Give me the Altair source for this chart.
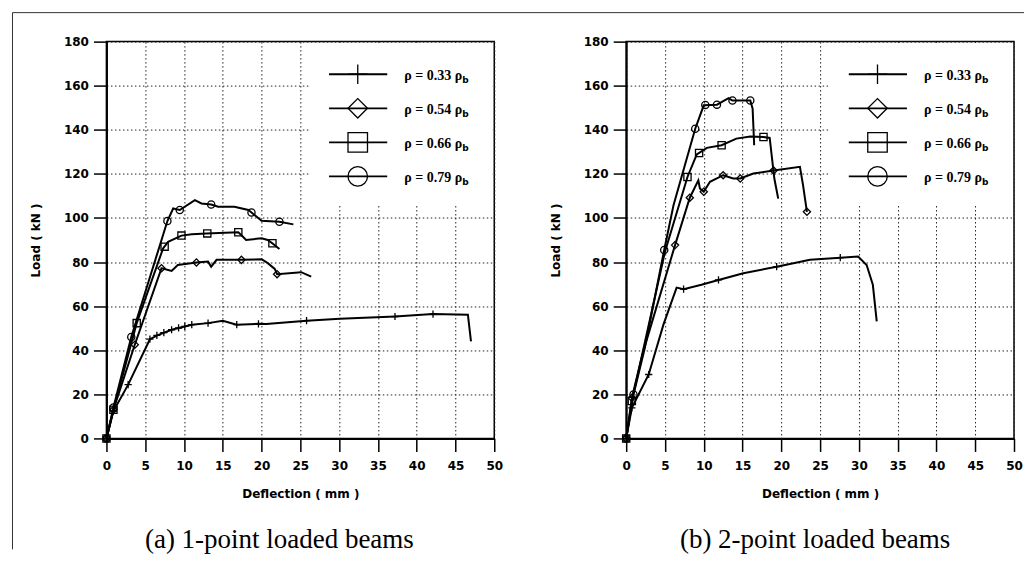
import altair as alt
import pandas as pd

# ---------------- data ----------------
SERIES = ["0.33", "0.54", "0.66", "0.79"]
LEGEND_LABELS = ["ρ = 0.33 ρ", "ρ = 0.54 ρ", "ρ = 0.66 ρ", "ρ = 0.79 ρ"]
LEGEND_SUB = "b"
X_TICKS = [0, 5, 10, 15, 20, 25, 30, 35, 40, 45, 50]
Y_TICKS = [0, 20, 40, 60, 80, 100, 120, 140, 160, 180]
CAPTIONS = ["(a) 1-point loaded beams", "(b) 2-point  loaded beams"]
X_TITLE = "Deflection ( mm )"
Y_TITLE = "Load ( kN )"

# panel (a): 1-point loaded beams -- curves
A033_X = [0, 0.9, 2.8, 5.6, 6.7, 8.4, 10.1, 11.0, 13.1, 15.0, 16.8, 19.6, 20.6, 25.8, 30.1, 37.2, 42.1, 46.6, 47.0]
A033_Y = [0, 12.4, 24.4, 45.0, 47.0, 49.3, 50.8, 51.6, 52.3, 53.4, 51.6, 52.0, 51.9, 53.4, 54.3, 55.3, 56.4, 56.1, 44.0]
A054_X = [0, 0.9, 3.65, 7.1, 8.4, 9.2, 11.6, 13.1, 13.5, 14.2, 17.4, 20.0, 20.8, 21.7, 22.0, 25.1, 26.4]
A054_Y = [0, 13.0, 42.5, 77.2, 76.0, 78.7, 79.8, 80.2, 77.9, 81.0, 81.0, 81.3, 79.5, 76.9, 74.5, 75.4, 73.4]
A066_X = [0, 0.9, 3.9, 7.3, 7.95, 9.67, 11.0, 12.9, 15.3, 17.0, 17.6, 18.0, 20.0, 20.8, 21.5, 22.3]
A066_Y = [0, 13.0, 52.3, 86.2, 89.2, 92.0, 92.6, 93.0, 93.3, 93.5, 91.5, 90.0, 90.8, 90.0, 88.2, 85.9]
A079_X = [0, 0.9, 3.2, 7.86, 8.6, 9.45, 11.4, 12.25, 13.5, 14.4, 16.5, 18.3, 18.7, 20.0, 22.3, 24.1]
A079_Y = [0, 14.0, 46.0, 98.6, 104.3, 103.6, 108.1, 106.6, 106.1, 105.1, 105.1, 103.6, 102.5, 98.7, 98.3, 97.1]
# panel (a) markers
A033_MX = [0, 0.9, 2.8, 5.6, 6.5, 7.4, 8.4, 9.3, 10.1, 11.0, 13.1, 16.8, 19.6, 25.8, 37.2, 42.1]
A033_MY = [0, 12.4, 24.4, 45.0, 46.7, 48.0, 49.3, 50.1, 50.8, 51.6, 52.3, 51.6, 52.0, 53.4, 55.3, 56.4]
A054_MX = [0, 0.9, 3.65, 7.1, 11.6, 17.4, 22.0]
A054_MY = [0, 13.0, 42.5, 77.2, 79.8, 81.0, 74.5]
A066_MX = [0, 0.9, 3.9, 7.5, 9.67, 13.0, 17.0, 21.4]
A066_MY = [0, 13.0, 52.3, 87.0, 92.0, 93.0, 93.5, 88.5]
A079_MX = [0, 0.9, 3.2, 7.86, 9.45, 13.5, 18.7, 22.3]
A079_MY = [0, 14.0, 46.0, 98.6, 103.6, 106.1, 102.5, 98.3]

# panel (b): 2-point loaded beams -- curves
B033_X = [0, 0.73, 2.9, 4.8, 6.5, 7.4, 9.7, 11.9, 15.1, 19.4, 23.7, 27.6, 29.9, 31.0, 31.8, 32.3]
B033_Y = [0, 13.9, 29.0, 51.6, 68.4, 67.7, 69.7, 71.9, 74.9, 77.9, 81.0, 82.0, 82.5, 78.7, 69.7, 53.1]
B054_X = [0, 0.73, 2.2, 6.3, 8.2, 9.3, 9.5, 10.0, 10.8, 12.5, 13.8, 14.7, 16.4, 19.0, 22.4, 22.8, 23.3]
B054_Y = [0, 18.4, 39.5, 87.7, 109.2, 117.1, 113.4, 111.9, 116.4, 119.4, 117.9, 117.9, 120.2, 121.5, 123.2, 114.9, 102.8]
B066_X = [0, 0.73, 5.0, 7.9, 9.1, 10.4, 12.3, 14.2, 16.0, 17.7, 18.5, 19.1, 19.6]
B066_Y = [0, 17.0, 84.7, 118.6, 128.8, 131.8, 133.0, 136.0, 137.0, 136.7, 136.3, 117.9, 108.8]
B079_X = [0, 0.94, 2.4, 4.9, 6.1, 8.9, 10.0, 11.7, 13.2, 13.7, 16.0, 16.3, 16.5]
B079_Y = [0, 19.9, 41.0, 85.5, 105.8, 140.5, 151.1, 151.4, 154.4, 153.3, 153.3, 149.6, 133.0]
# panel (b) markers
B033_MX = [0, 0.73, 2.9, 7.4, 11.9, 19.4, 27.6]
B033_MY = [0, 13.9, 29.0, 67.7, 71.9, 77.9, 82.0]
B054_MX = [0, 0.73, 6.3, 8.2, 10.0, 12.5, 14.7, 19.0, 23.3]
B054_MY = [0, 18.4, 87.7, 109.2, 111.9, 119.4, 117.9, 121.5, 102.8]
B066_MX = [0, 0.73, 7.9, 9.4, 12.3, 17.7]
B066_MY = [0, 17.0, 118.6, 129.5, 133.0, 136.7]
B079_MX = [0, 0.94, 4.9, 8.9, 10.2, 11.7, 13.7, 16.0]
B079_MY = [0, 19.9, 85.5, 140.5, 151.3, 151.4, 153.3, 153.3]

# ---------------- styling / layout ----------------
PLUS = "M-1,0H1M0,-1V1"
SHAPES = [PLUS, "diamond", "square", "circle"]
W, H = 388, 397
SANS = "DejaVu Sans"
SERIF = "Liberation Serif"


def build_frames(curves, markers):
    lrows, mrows = [], []
    for s, (xs, ys) in zip(SERIES, curves):
        for i, (x, y) in enumerate(zip(xs, ys)):
            lrows.append({"series": s, "x": x, "y": y, "i": i})
    for s, (xs, ys) in zip(SERIES, markers):
        for x, y in zip(xs, ys):
            mrows.append({"series": s, "x": x, "y": y})
    return pd.DataFrame(lrows), pd.DataFrame(mrows)


def legend_frame():
    rows = []
    for r, (s, lab) in enumerate(zip(SERIES, LEGEND_LABELS)):
        y = 165.2 - r * 15.45
        rows.append({"series": s, "label": lab, "sub": LEGEND_SUB,
                     "x1": 28.7, "x2": 36.2, "xm": 32.4, "xt": 38.4, "y": y})
    return pd.DataFrame(rows)


def panel(curves, markers, caption, cap_x, first):
    ldf, mdf = build_frames(curves, markers)
    gdf = legend_frame()

    xscale = alt.Scale(domain=[0, 50], nice=False, zero=False)
    yscale = alt.Scale(domain=[0, 180], nice=False, zero=False)
    common = dict(grid=True, gridDash=[1.5, 2.5], gridColor="#222", gridWidth=1,
                  tickSize=13, tickColor="black", tickWidth=1.5,
                  domainColor="black", domainWidth=2,
                  labelFont=SANS, labelFontWeight="bold", labelFontSize=12,
                  labelColor="black", labelFlush=False, labelOverlap=False,
                  titleFont=SANS, titleFontWeight="bold", titleFontSize=12,
                  titleColor="black")
    xaxis = alt.Axis(values=X_TICKS, title=X_TITLE, labelPadding=9, titlePadding=17, **common)
    yaxis = alt.Axis(values=Y_TICKS, title=Y_TITLE, labelPadding=5, titlePadding=21, **common)
    shape_scale = alt.Scale(domain=SERIES, range=SHAPES)

    def X(f):
        return alt.X(f, scale=xscale, axis=xaxis)

    def Y(f):
        return alt.Y(f, scale=yscale, axis=yaxis)

    lines = alt.Chart(ldf).mark_line(color="black", strokeWidth=2).encode(
        x=X("x:Q"), y=Y("y:Q"), detail="series:N", order="i:Q")
    pts = alt.Chart(mdf).mark_point(filled=False, color="black", size=52, strokeWidth=1.3, opacity=1).encode(
        x=X("x:Q"), y=Y("y:Q"),
        shape=alt.Shape("series:N", scale=shape_scale, legend=None))
    one = pd.DataFrame({"k": [0]})
    bg = alt.Chart(one).mark_rect(color="white").encode(
        x=alt.value(203), x2=alt.value(386), y=alt.value(1.5), y2=alt.value(163))
    leg_line = alt.Chart(gdf).mark_rule(color="black", strokeWidth=1.8).encode(
        x=X("x1:Q"), x2="x2:Q", y=Y("y:Q"))
    leg_pt = alt.Chart(gdf).mark_point(filled=False, color="black", size=380, strokeWidth=1.3, opacity=1).encode(
        x=X("xm:Q"), y=Y("y:Q"),
        shape=alt.Shape("series:N", scale=shape_scale, legend=None))
    leg_txt = alt.Chart(gdf).mark_text(align="left", baseline="middle", font=SERIF, fontWeight="bold",
                                       fontSize=14, color="black", dy=2).encode(
        x=X("xt:Q"), y=Y("y:Q"), text="label:N")
    leg_sub = alt.Chart(gdf).mark_text(align="left", baseline="middle", font=SANS, fontWeight="bold",
                                       fontSize=9, color="black", dx=58, dy=6).encode(
        x=X("xt:Q"), y=Y("y:Q"), text="sub:N")
    cap = alt.Chart(pd.DataFrame({"t": [caption]})).mark_text(
        font=SERIF, fontSize=27, align="center", baseline="alphabetic", color="black").encode(
        x=alt.value(cap_x), y=alt.value(507), text="t:N")

    layers = [lines, bg, pts, leg_line, leg_pt, leg_txt, leg_sub, cap]
    if first:
        vline = alt.Chart(one).mark_rule(color="#333", strokeWidth=1).encode(
            x=alt.value(-94), y=alt.value(-29), y2=alt.value(508))
        hline = alt.Chart(one).mark_rule(color="#333", strokeWidth=1).encode(
            x=alt.value(-94), x2=alt.value(918), y=alt.value(-29))
        layers += [vline, hline]
    return alt.layer(*layers).properties(width=W, height=H)


left = panel([(A033_X, A033_Y), (A054_X, A054_Y), (A066_X, A066_Y), (A079_X, A079_Y)],
             [(A033_MX, A033_MY), (A054_MX, A054_MY), (A066_MX, A066_MY), (A079_MX, A079_MY)],
             CAPTIONS[0], 173, True)
right = panel([(B033_X, B033_Y), (B054_X, B054_Y), (B066_X, B066_Y), (B079_X, B079_Y)],
              [(B033_MX, B033_MY), (B054_MX, B054_MY), (B066_MX, B066_MY), (B079_MX, B079_MY)],
              CAPTIONS[1], 189, False)

chart = alt.hconcat(left, right, spacing=132, bounds="flush").properties(
    padding={"left": 2.5, "top": 2.5, "right": 0, "bottom": 0},
    background="white",
).configure_view(stroke="black", strokeWidth=1.5)

chart.save("out.html", embed_options={"renderer": "svg", "actions": False})
